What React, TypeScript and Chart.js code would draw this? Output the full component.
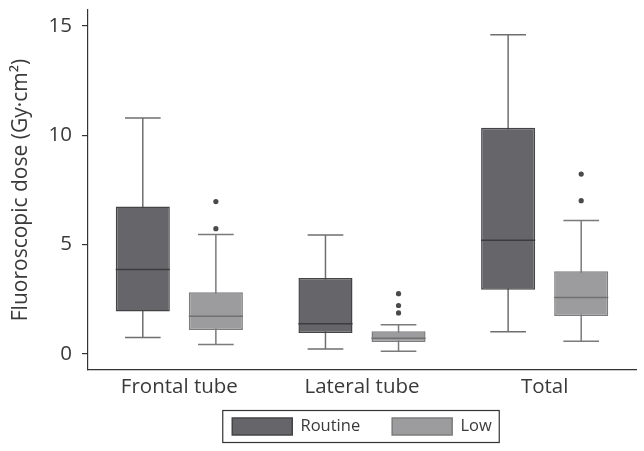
import React, { useEffect, useRef } from 'react';
import { Chart, registerables } from 'chart.js';

Chart.register(...registerables);

const categories = ['Frontal tube', 'Lateral tube', 'Total'];
const seriesNames = ['Routine', 'Low'];

const routineMin = [0.75, 0.22, 1.01];
const routineQ1 = [1.93, 0.95, 2.93];
const routineMedian = [3.85, 1.37, 5.19];
const routineQ3 = [6.73, 3.47, 10.34];
const routineMax = [10.78, 5.43, 14.59];
const routineOutliers: number[][] = [[], [], []];

const lowMin = [0.43, 0.12, 0.58];
const lowQ1 = [1.09, 0.54, 1.73];
const lowMedian = [1.72, 0.71, 2.58];
const lowQ3 = [2.81, 1.03, 3.77];
const lowMax = [5.45, 1.33, 6.1];
const lowOutliers: number[][] = [[5.72, 6.96], [1.87, 2.21, 2.75], [7.0, 8.22]];

const yTicks = [0, 5, 10, 15];

const FONT = "'Open Sans', 'Noto Sans', sans-serif";
const TEXT = '#3a3a3a';

const stats = [
  { min: routineMin, q1: routineQ1, med: routineMedian, q3: routineQ3, max: routineMax, out: routineOutliers, whisker: '#6f6f72', median: '#3c3c3f', dot: '#4a4a4d' },
  { min: lowMin, q1: lowQ1, med: lowMedian, q3: lowQ3, max: lowMax, out: lowOutliers, whisker: '#7a7a7c', median: '#707072', dot: '#4a4a4d' },
];

const boxPlugin = {
  id: 'boxParts',
  afterLayout(chart: any) {
    // let the category labels overflow the thin x-axis box instead of being clipped
    const x = chart.scales.x;
    if (x) x.bottom = chart.height;
  },
  beforeDatasetsDraw(chart: any) {
    const ctx = chart.ctx;
    const y = chart.scales.y;
    stats.forEach((s, di) => {
      const meta = chart.getDatasetMeta(di);
      meta.data.forEach((bar: any, i: number) => {
        const x = bar.x;
        const w = bar.width;
        const cap = w * 0.66;
        ctx.save();
        ctx.strokeStyle = s.whisker;
        ctx.lineWidth = 1.5;
        ctx.beginPath();
        ctx.moveTo(x, y.getPixelForValue(s.min[i]));
        ctx.lineTo(x, y.getPixelForValue(s.max[i]));
        [s.min[i], s.max[i]].forEach((v) => {
          const py = y.getPixelForValue(v);
          ctx.moveTo(x - cap / 2, py);
          ctx.lineTo(x + cap / 2, py);
        });
        ctx.stroke();
        ctx.restore();
      });
    });
  },
  afterDatasetsDraw(chart: any) {
    const ctx = chart.ctx;
    const y = chart.scales.y;
    stats.forEach((s, di) => {
      const meta = chart.getDatasetMeta(di);
      meta.data.forEach((bar: any, i: number) => {
        const x = bar.x;
        const w = bar.width;
        ctx.save();
        ctx.strokeStyle = s.median;
        ctx.lineWidth = 1.5;
        const py = y.getPixelForValue(s.med[i]);
        ctx.beginPath();
        ctx.moveTo(x - w / 2, py);
        ctx.lineTo(x + w / 2, py);
        ctx.stroke();
        ctx.fillStyle = s.dot;
        s.out[i].forEach((v) => {
          ctx.beginPath();
          ctx.arc(x, y.getPixelForValue(v), 2.6, 0, Math.PI * 2);
          ctx.fill();
        });
        ctx.restore();
      });
    });
  },
};

const legendFramePlugin = {
  id: 'legendFrame',
  afterDraw(chart: any) {
    const lg = chart.legend;
    if (!lg || !lg.legendHitBoxes || !lg.legendHitBoxes.length) return;
    const hb = lg.legendHitBoxes;
    let l = Infinity, r = -Infinity, t = Infinity, b = -Infinity;
    hb.forEach((h: any) => {
      l = Math.min(l, h.left);
      r = Math.max(r, h.left + h.width);
      t = Math.min(t, h.top);
      b = Math.max(b, h.top + h.height);
    });
    const ctx = chart.ctx;
    ctx.save();
    ctx.strokeStyle = '#333';
    ctx.lineWidth = 1.2;
    ctx.strokeRect(l - 9.5, t - 7.5, r - l + 17, b - t + 15);
    ctx.restore();
  },
};

export default function App() {
  const ref = useRef<HTMLCanvasElement | null>(null);
  useEffect(() => {
    if (!ref.current) return;
    const chart = new Chart(ref.current, {
      type: 'bar',
      data: {
        labels: categories,
        datasets: [
          {
            label: seriesNames[0],
            data: routineQ1.map((v, i) => [v, routineQ3[i]]),
            backgroundColor: '#66666a',
            borderColor: '#444447',
            borderWidth: 1.5,
            borderSkipped: false,
            categoryPercentage: 0.8,
            barPercentage: 0.74,
          },
          {
            label: seriesNames[1],
            data: lowQ1.map((v, i) => [v, lowQ3[i]]),
            backgroundColor: '#9c9c9e',
            borderColor: '#7c7c7e',
            borderWidth: 1.5,
            borderSkipped: false,
            categoryPercentage: 0.8,
            barPercentage: 0.74,
          },
        ] as any,
      },
      options: {
        responsive: false,
        animation: false,
        layout: { padding: { top: 10, right: 8, left: 0, bottom: 6 } },
        plugins: {
          tooltip: { enabled: false },
          legend: {
            position: 'bottom',
            fullSize: false,
            labels: {
              boxWidth: 60,
              boxHeight: 17,
              padding: 32,
              color: TEXT,
              font: { family: FONT, size: 16.5 },
            },
          },
        },
        scales: {
          x: {
            afterFit: (s: any) => { s.height = 16; },
            grid: { display: false, drawTicks: false },
            border: { display: true, color: '#333', width: 1.2 },
            ticks: { color: TEXT, font: { family: FONT, size: 20.5 }, padding: 5 },
          },
          y: {
            min: -0.74,
            max: 15.72,
            afterFit: (s: any) => { s.width = 88; s.paddingTop = 0; s.paddingBottom = 0; },
            afterBuildTicks: (s: any) => { s.ticks = yTicks.map((v) => ({ value: v })); },
            grid: { drawOnChartArea: false, drawTicks: true, tickLength: 6, color: '#333', lineWidth: 1.2 },
            border: { display: true, color: '#333', width: 1.2 },
            ticks: { color: TEXT, font: { family: FONT, size: 20.5 }, padding: 10 },
            title: {
              display: true,
              text: 'Fluoroscopic dose (Gy·cm²)',
              color: TEXT,
              font: { family: FONT, size: 21 },
              padding: { top: 8, bottom: 0 },
            },
          },
        },
      },
      plugins: [boxPlugin, legendFramePlugin],
    });
    return () => chart.destroy();
  }, []);
  return (
    <div style={{ position: 'absolute', left: 0, top: 0, width: 644, height: 451 }}>
      <canvas ref={ref} width={644} height={451} />
    </div>
  );
}
